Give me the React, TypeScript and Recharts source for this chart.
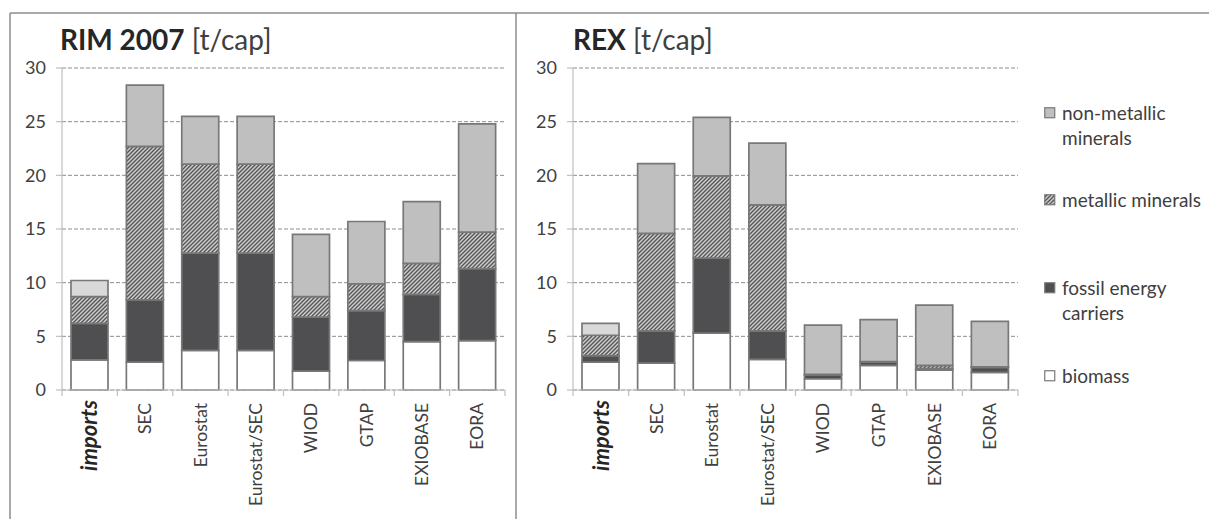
import React from 'react';
import { BarChart, Bar, XAxis, YAxis, CartesianGrid, Cell, Legend } from 'recharts';

const categories = ['imports', 'SEC', 'Eurostat', 'Eurostat/SEC', 'WIOD', 'GTAP', 'EXIOBASE', 'EORA'];
const yTicks = [0, 5, 10, 15, 20, 25, 30];

const rimBiomass = [2.8, 2.6, 3.7, 3.7, 1.75, 2.75, 4.5, 4.6];
const rimFossil = [3.4, 5.8, 9.05, 9.05, 5.05, 4.65, 4.4, 6.7];
const rimMetallic = [2.5, 14.3, 8.3, 8.3, 1.9, 2.5, 2.9, 3.4];
const rimNonMetallic = [1.5, 5.7, 4.45, 4.45, 5.8, 5.8, 5.75, 10.1];

const rexBiomass = [2.6, 2.5, 5.3, 2.85, 1.05, 2.3, 1.85, 1.65];
const rexFossil = [0.6, 3.0, 7.0, 2.65, 0.35, 0.3, 0.15, 0.45];
const rexMetallic = [1.9, 9.1, 7.65, 11.75, 0.05, 0.05, 0.3, 0.05];
const rexNonMetallic = [1.1, 6.5, 5.45, 5.75, 4.6, 3.9, 5.6, 4.25];

const seriesNames = ['biomass', 'fossil energy carriers', 'metallic minerals', 'non-metallic minerals'];
const seriesKeys = ['biomass', 'fossil', 'metallic', 'nonMetallic'];

const FONT = 'Lato, "Open Sans", sans-serif';
const TEXT = '#404040';
const STROKE = '#787878';
const FILLS: Record<string, string> = {
  biomass: '#ffffff',
  fossil: '#4f4f51',
  metallic: 'url(#hatch)',
  nonMetallic: '#bfbfbf',
};
const IMPORTS_NONMET = '#d9d9d9';

function build(b: number[], f: number[], m: number[], n: number[]) {
  return categories.map((c, i) => ({ name: c, biomass: b[i], fossil: f[i], metallic: m[i], nonMetallic: n[i] }));
}
const rimData = build(rimBiomass, rimFossil, rimMetallic, rimNonMetallic);
const rexData = build(rexBiomass, rexFossil, rexMetallic, rexNonMetallic);

function makeTick(band: number) {
  return (props: any) => {
    const { x, y, payload, index } = props;
    const isImports = payload.value === 'imports';
    return (
      <g>
        <line x1={x - band / 2} x2={x - band / 2} y1={y} y2={y + 6} stroke="#bfbfbf" strokeWidth={1.2} />
        {index === categories.length - 1 && (
          <line x1={x + band / 2} x2={x + band / 2} y1={y} y2={y + 6} stroke="#bfbfbf" strokeWidth={1.2} />
        )}
        <g transform={`translate(${x},${y})`}>
          <text
            transform="rotate(-90)"
            x={isImports ? -10 : -13}
            y={0}
            dy="0.35em"
            textAnchor="end"
            fill={isImports ? '#262626' : TEXT}
            fontSize={isImports ? 22 : 17.5}
            fontWeight={isImports ? 700 : 400}
            fontStyle={isImports ? 'italic' : 'normal'}
            fontFamily={FONT}
          >
            {payload.value}
          </text>
        </g>
      </g>
    );
  };
}

const legendOrder = [3, 2, 1, 0];

function LegendContent() {
  return (
    <div style={{ position: 'relative', width: 170, height: 300, fontFamily: FONT }}>
      {legendOrder.map((si, i) => {
        const key = seriesKeys[si];
        return (
          <div key={key} style={{ position: 'absolute', top: i * 87.7, left: 0, display: 'flex', alignItems: 'flex-start' }}>
            <svg width={12} height={12} style={{ marginTop: 7, marginRight: 6, flex: 'none' }}>
              <rect x={0.75} y={0.75} width={10} height={10} fill={FILLS[key]} stroke={STROKE} strokeWidth={1.2} />
            </svg>
            <div style={{ width: 147, lineHeight: '25px', fontSize: 19, color: TEXT, textAlign: 'left' }}>{seriesNames[si]}</div>
          </div>
        );
      })}
    </div>
  );
}

function Panel(props: {
  left: number;
  width: number;
  data: any[];
  marginLeft: number;
  marginRight: number;
  plotWidth: number;
  legend?: boolean;
}) {
  const { left, width, data, marginLeft, marginRight, plotWidth, legend } = props;
  const band = plotWidth / categories.length;
  return (
    <div style={{ position: 'absolute', left, top: 0 }}>
      <BarChart
        width={width}
        height={519}
        data={data}
        margin={{ top: 68, right: marginRight, left: marginLeft, bottom: 28 }}
        barSize={37}
      >
        <CartesianGrid vertical={false} stroke="#8c8c8c" strokeDasharray="4 2" strokeWidth={1} />
        <XAxis
          dataKey="name"
          height={101}
          axisLine={{ stroke: '#bfbfbf', strokeWidth: 1.2 }}
          tickLine={false}
          tickSize={0}
          tickMargin={0}
          interval={0}
          tick={makeTick(band)}
        />
        <YAxis
          width={40}
          domain={[0, 30]}
          ticks={yTicks}
          interval={0}
          axisLine={{ stroke: '#bfbfbf', strokeWidth: 1.2 }}
          tickLine={{ stroke: '#bfbfbf', strokeWidth: 1.2 }}
          tickSize={6}
          tickMargin={10}
          tick={{ fill: TEXT, fontSize: 18, fontFamily: FONT }}
        />
        {seriesKeys.map((k, si) => (
          <Bar
            key={k}
            dataKey={k}
            name={seriesNames[si]}
            stackId="a"
            fill={FILLS[k]}
            stroke={STROKE}
            strokeWidth={1.7}
            isAnimationActive={false}
          >
            {k === 'nonMetallic' &&
              data.map((d) => <Cell key={d.name} fill={d.name === 'imports' ? IMPORTS_NONMET : FILLS[k]} />)}
          </Bar>
        ))}
        {legend && (
          <Legend
            layout="horizontal"
            verticalAlign="middle"
            align="right"
            content={() => <LegendContent />}
            wrapperStyle={{ position: 'absolute', left: 528, top: 99.5, width: 170, height: 300, right: 'auto', bottom: 'auto' }}
          />
        )}
      </BarChart>
    </div>
  );
}

export default function App() {
  return (
    <div style={{ position: 'absolute', left: 0, top: 0, width: 1209, height: 519, background: '#fff', overflow: 'hidden' }}>
      <svg width={1209} height={519} style={{ position: 'absolute', left: 0, top: 0 }}>
        <defs>
          <pattern id="hatch" patternUnits="userSpaceOnUse" width={4} height={4}>
            <rect width={4} height={4} fill="#cfcfcf" />
            <path d="M-1,1 l2,-2 M0,4 l4,-4 M3,5 l2,-2" stroke="#555555" strokeWidth={1.4} />
          </pattern>
        </defs>
        <line x1={10} y1={13} x2={1209} y2={13} stroke="#8c8c8c" strokeWidth={1.5} />
        <line x1={10} y1={13} x2={10} y2={519} stroke="#8c8c8c" strokeWidth={1.5} />
        <line x1={516} y1={13} x2={516} y2={519} stroke="#8c8c8c" strokeWidth={1.5} />
        <text x={60} y={50} fontSize={28} fontFamily={FONT} fill="#262626">
          <tspan fontWeight={700}>RIM 2007</tspan>
          <tspan fill={TEXT}> [t/cap]</tspan>
        </text>
        <text x={573} y={50} fontSize={28} fontFamily={FONT} fill="#262626">
          <tspan fontWeight={700}>REX</tspan>
          <tspan fill={TEXT}> [t/cap]</tspan>
        </text>
      </svg>
      <Panel left={0} width={516} data={rimData} marginLeft={22} marginRight={11} plotWidth={443} />
      <Panel left={516} width={693} data={rexData} marginLeft={17} marginRight={21} plotWidth={445} legend />
    </div>
  );
}
